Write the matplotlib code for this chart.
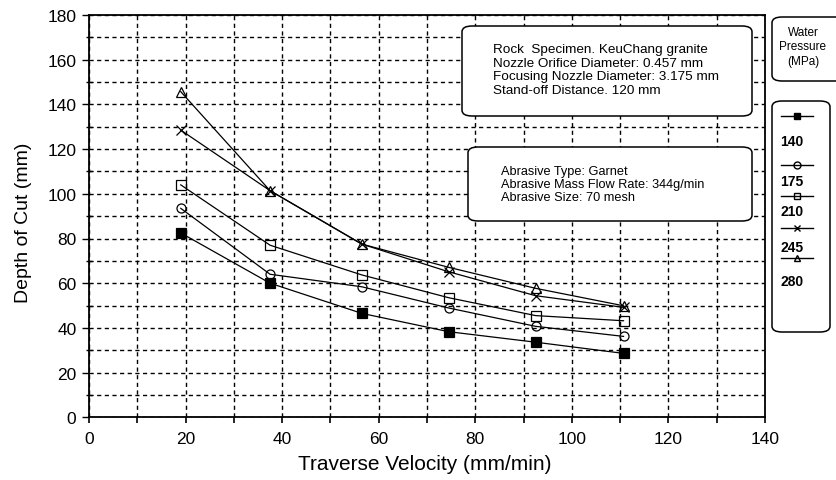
import matplotlib
matplotlib.use("Agg")
import matplotlib.pyplot as plt
from matplotlib.patches import FancyBboxPatch
from matplotlib.lines import Line2D

plt.rcParams['font.family'] = ['Liberation Sans', 'DejaVu Sans']

# ---- data ----
velocity = [19, 37.5, 56.5, 74.5, 92.5, 110.7]
pressures = ["140", "175", "210", "245", "280"]
depth_140 = [82.5, 60, 46.5, 38.3, 33.6, 28.6]
depth_175 = [93.5, 64, 58.4, 48.9, 40.7, 36.2]
depth_210 = [104, 77, 63.7, 53.5, 45.5, 43.2]
depth_245 = [128.5, 101.4, 77.5, 65.1, 54.4, 49.2]
depth_280 = [145.7, 101.4, 77.5, 67.1, 57.7, 49.9]
series = [depth_140, depth_175, depth_210, depth_245, depth_280]
markers = ['s', 'o', 's', 'x', '^']
fills = ['black', 'none', 'none', 'none', 'none']

box1_lines = ["Rock  Specimen. KeuChang granite",
              "Nozzle Orifice Diameter: 0.457 mm",
              "Focusing Nozzle Diameter: 3.175 mm",
              "Stand-off Distance. 120 mm"]
box2_lines = ["Abrasive Type: Garnet",
              "Abrasive Mass Flow Rate: 344g/min",
              "Abrasive Size: 70 mesh"]

W, H = 837, 481
fig = plt.figure(figsize=(W / 100, H / 100), dpi=100)


def fx(px):
    return px / W


def fy(py):
    return 1 - py / H


ax = fig.add_axes([fx(89), fy(418.3), fx(765) - fx(89), fy(16) - fy(418.3)])
ax.set_xlim(0, 140)
ax.set_ylim(0, 180)

for ys, m, fc in zip(series, markers, fills):
    ax.plot(velocity, ys, color='black', lw=0.9, marker=m, ms=6.5 if m != 'x' else 7,
            markerfacecolor=fc, markeredgecolor='black', markeredgewidth=0.9, zorder=3)

ax.set_xticks(range(0, 141, 20))
ax.set_yticks(range(0, 181, 20))
ax.set_xticks(range(0, 141, 10), minor=True)
ax.set_yticks(range(0, 181, 10), minor=True)
ax.grid(which='both', color='black', linestyle=(0, (3, 2.5)), linewidth=1.0)
ax.tick_params(axis='x', which='both', direction='out', length=4, width=1.2, labelsize=12.5, pad=6)
ax.tick_params(axis='y', which='major', direction='out', length=5, width=1, labelsize=12.5, pad=4)
ax.tick_params(axis='y', which='minor', direction='inout', length=5, width=1)
for s in ax.spines.values():
    s.set_linewidth(1.3)
ax.set_xlabel("Traverse Velocity (mm/min)", fontsize=15, va='center')
ax.xaxis.set_label_coords(0.497, -0.116)
ax.set_ylabel("Depth of Cut (mm)", fontsize=14, va='center')
ax.yaxis.set_label_coords(-0.097, 0.487)


def rbox(x0, y0, x1, y1):
    p = FancyBboxPatch((fx(x0), fy(y1)), fx(x1) - fx(x0), fy(y0) - fy(y1),
                       boxstyle="round,pad=0,rounding_size=0.012",
                       transform=fig.transFigure, facecolor='white',
                       edgecolor='black', linewidth=1.1, zorder=5)
    fig.add_artist(p)


rbox(462, 27, 752, 117)
for i, t in enumerate(box1_lines):
    fig.text(fx(493), fy(50 + i * 13.7), t, fontsize=9.7, va='center', ha='left', zorder=6)

rbox(468, 148, 752, 222)
for i, t in enumerate(box2_lines):
    fig.text(fx(501), fy(172 + i * 13.2), t, fontsize=9.2, va='center', ha='left', zorder=6)

# legend title box
rbox(772, 18, 845, 82)
for t, py in zip(["Water", "Pressure", "(MPa)"], [33, 47, 62]):
    fig.text(fx(803), fy(py), t, fontsize=8.5, ha='center', va='center', zorder=6)

# legend box
rbox(772, 102, 830, 333)
marker_y = [117, 166, 197, 229, 259]
label_y = [142, 182, 212, 248, 282]
for m, fc, my, ly, lab in zip(markers, fills, marker_y, label_y, pressures):
    ln = Line2D([fx(781), fx(813)], [fy(my), fy(my)], transform=fig.transFigure,
                color='black', lw=1.0, zorder=6)
    mk = Line2D([fx(797)], [fy(my)], transform=fig.transFigure, color='black', lw=0,
                marker=m, ms=5, markerfacecolor=fc, markeredgecolor='black', zorder=7)
    fig.add_artist(ln)
    fig.add_artist(mk)
    fig.text(fx(792), fy(ly), lab, fontsize=10, fontweight='bold', ha='center', va='center', zorder=6)

fig.savefig("out.png", dpi=100, facecolor='white')
